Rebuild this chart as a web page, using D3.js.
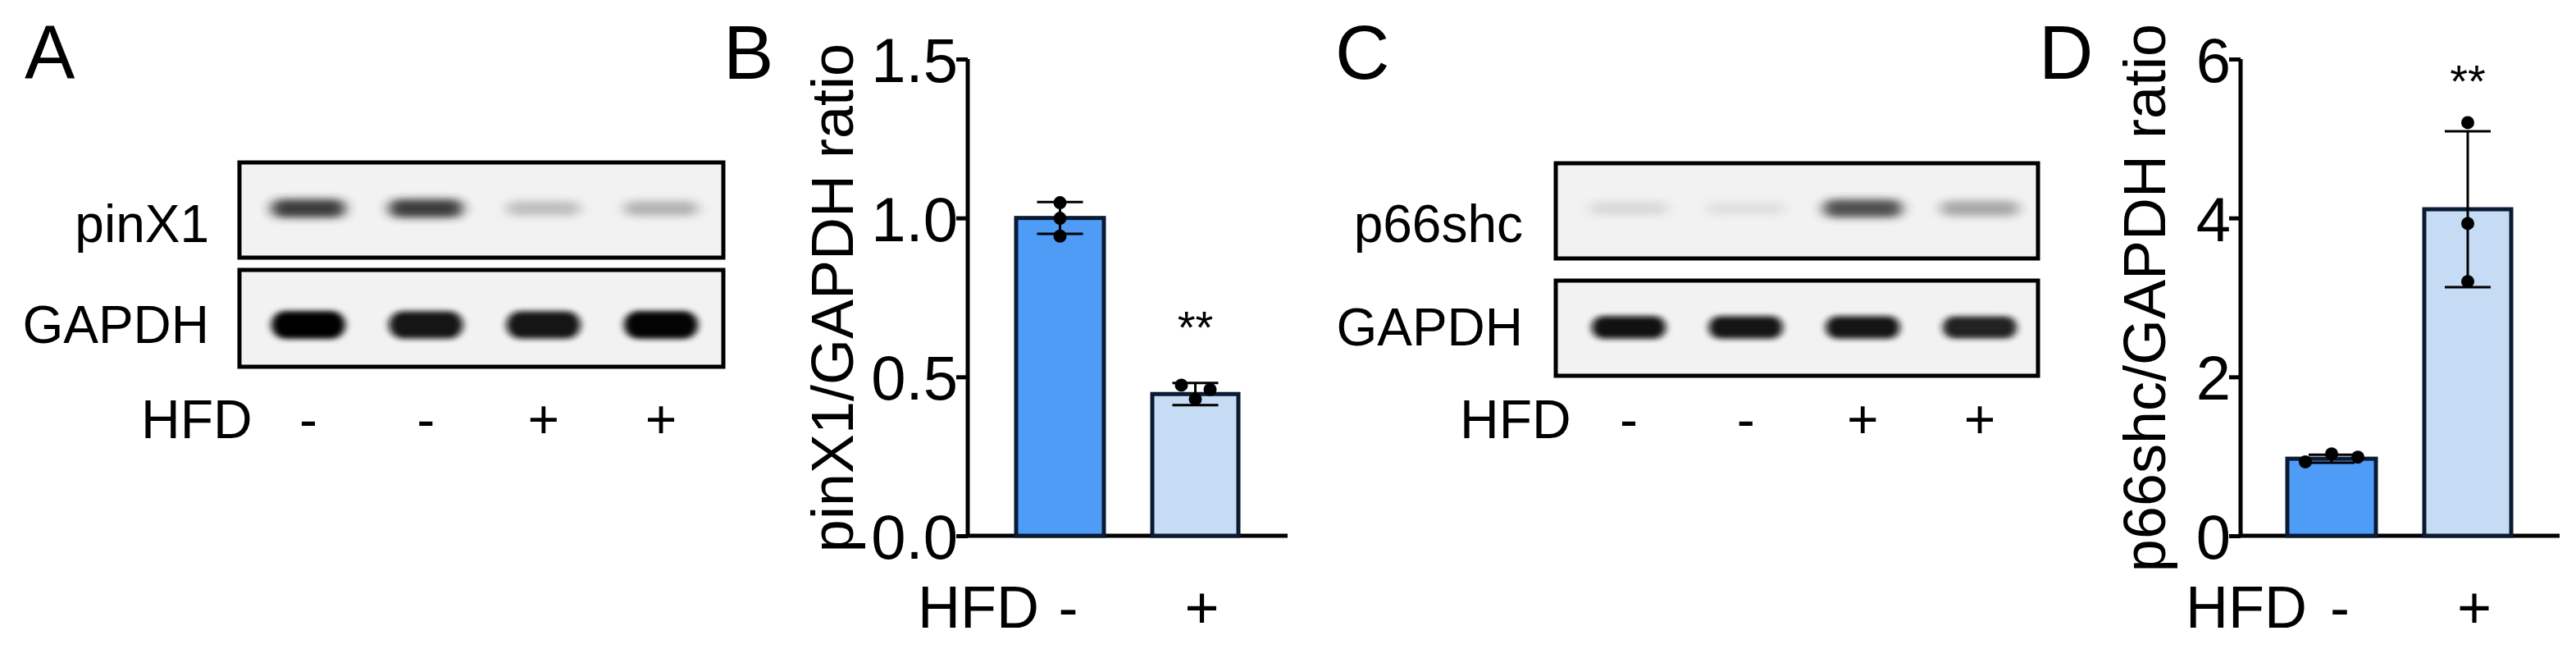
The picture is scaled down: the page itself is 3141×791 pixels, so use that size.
<!DOCTYPE html>
<html><head><meta charset="utf-8">
<script src="https://cdnjs.cloudflare.com/ajax/libs/d3/7.8.5/d3.min.js"></script>
<style>body{margin:0;background:#fff}svg{display:block}text{font-family:"Liberation Sans",Arial,sans-serif;fill:#000}</style>
</head><body><svg id="c" width="3141" height="791"></svg>
<script>
const groups = ["-", "+"];
const laneSigns = ["-", "-", "+", "+"];
const pinx1Means = [1.0, 0.446];
const pinx1SD = [0.05, 0.035];
const pinx1Points = [[1.048, 0.999, 0.943], [0.474, 0.46, 0.43]];
const pinx1Ticks = [0.0, 0.5, 1.0, 1.5];
const p66Means = [0.97, 4.11];
const p66SD = [0.05, 0.98];
const p66Points = [[0.93, 1.03, 0.99], [5.2, 3.93, 3.2]];
const p66Ticks = [0, 2, 4, 6];
// blot band intensities (0..1) per lane
const bandA1 = [0.85, 0.85, 0.4, 0.45];
const bandA2 = [1.0, 0.95, 0.95, 0.98];
const bandC1 = [0.25, 0.2, 0.8, 0.5];
const bandC2 = [0.97, 0.95, 0.95, 0.92];

const svg = d3.select("#c");
const defs = svg.append("defs");
defs.append("filter").attr("id","blur").attr("x","-50%").attr("y","-100%").attr("width","200%").attr("height","300%")
  .append("feGaussianBlur").attr("stdDeviation","8 5");
defs.append("filter").attr("id","blur2").attr("x","-50%").attr("y","-100%").attr("width","200%").attr("height","300%")
  .append("feGaussianBlur").attr("stdDeviation","5 3");

function label(t,x,y){svg.append("text").attr("x",x).attr("y",y).attr("font-size",92).text(t);}
label("A",30,96);label("B",882,96);label("C",1628,96);label("D",2486,96);

function blot(x0,x1,boxes,labels,lanes,labelRight,signY,hfdX){
  const xs = d3.scalePoint().domain(d3.range(4)).range(lanes);
  boxes.forEach((b,i)=>{
    const g=svg.append("g");
    g.append("rect").attr("x",x0).attr("y",b.y0).attr("width",x1-x0).attr("height",b.y1-b.y0).attr("fill","#f2f2f2");
    b.bands.forEach((v,j)=>{
      g.append("rect").attr("x",xs(j)-b.rx).attr("y",b.by-b.ry-v*5).attr("width",2*b.rx).attr("height",2*(b.ry+v*5)).attr("rx",b.ry+v*5)
        .attr("fill",d3.interpolateGreys(0.15+0.85*v)).attr("opacity",0.3+0.7*v).attr("filter",i==0?"url(#blur)":"url(#blur2)");
    });
    g.append("rect").attr("x",x0).attr("y",b.y0).attr("width",x1-x0).attr("height",b.y1-b.y0).attr("fill","none").attr("stroke","#000").attr("stroke-width",5);
    svg.append("text").attr("x",labelRight).attr("y",b.ly).attr("text-anchor","end").attr("font-size",64).text(labels[i]);
  });
  svg.append("text").attr("x",hfdX).attr("y",signY).attr("font-size",66).text("HFD");
  laneSigns.forEach((s,j)=>svg.append("text").attr("x",xs(j)).attr("y",signY).attr("text-anchor","middle").attr("font-size",66).text(s));
}
blot(292,882,[{y0:198,y1:314,by:254,rx:45,ry:7,ly:295,bands:bandA1},{y0:329,y1:447,by:396,rx:45,ry:12,ly:418,bands:bandA2}],
  ["pinX1","GAPDH"],[376,806],255,534,172);
blot(1897,2485,[{y0:199,y1:315,by:254,rx:48,ry:7,ly:295,bands:bandC1},{y0:342,y1:458,by:399,rx:45,ry:9,ly:421,bands:bandC2}],
  ["p66shc","GAPDH"],[1986,2414],1857,534,1780);

const colors=["#4f9cf7","#c6dcf5"];
function chart(ax,xEnd,bars,means,sds,pts,ticks,dom,ylab,labX,hfdX,starY){
  const y=d3.scaleLinear().domain(dom).range([653,72]);
  const g=svg.append("g");
  const yAxis=d3.axisLeft(y).tickValues(ticks).tickSize(14).tickFormat(dom[1]<2?d3.format(".1f"):d3.format("d"));
  const ag=g.append("g").attr("transform",`translate(${ax},0)`).call(yAxis);
  ag.select(".domain").attr("stroke-width",5).attr("d",`M0,${y(dom[1])}V${y(0)}`);
  ag.selectAll(".tick line").attr("stroke-width",5);
  ag.selectAll(".tick text").attr("font-size",76).attr("font-family","Liberation Sans, Arial").attr("x",-12).attr("dy","0.36em");
  g.append("line").attr("x1",ax-2).attr("x2",xEnd).attr("y1",y(0)).attr("y2",y(0)).attr("stroke","#000").attr("stroke-width",5);
  bars.forEach((b,i)=>{
    g.append("rect").attr("x",b[0]).attr("width",b[1]-b[0]).attr("y",y(means[i])).attr("height",y(0)-y(means[i]))
      .attr("fill",colors[i]).attr("stroke","#0b1a33").attr("stroke-width",5);
    const cx=(b[0]+b[1])/2;
    g.append("line").attr("x1",cx).attr("x2",cx).attr("y1",y(means[i]+sds[i])).attr("y2",y(means[i]-sds[i])).attr("stroke","#000").attr("stroke-width",3);
    [means[i]+sds[i],means[i]-sds[i]].forEach(v=>g.append("line").attr("x1",cx-28).attr("x2",cx+28).attr("y1",y(v)).attr("y2",y(v)).attr("stroke","#000").attr("stroke-width",3));
    const off = i==1&&dom[1]<2?[-17,18,0]:(i==0&&dom[1]>2?[-32,0,32]:[0,0,0]);
    pts[i].forEach((v,k)=>g.append("circle").attr("cx",cx+off[k]).attr("cy",y(v)).attr("r",8).attr("fill","#000"));
  });
  const c2=(bars[1][0]+bars[1][1])/2;
  g.append("text").attr("x",c2).attr("y",starY).attr("text-anchor","middle").attr("font-size",56).text("**");
  g.append("text").attr("transform",`translate(${labX},363) rotate(-90)`).attr("text-anchor","middle").attr("font-size",72).text(ylab);
  g.append("text").attr("x",hfdX).attr("y",765).attr("font-size",72).text("HFD");
  groups.forEach((s,i)=>g.append("text").attr("x",(bars[i][0]+bars[i][1])/2+(i==0?10:8)).attr("y",765).attr("text-anchor","middle").attr("font-size",72).text(s));
}
chart(1180,1570,[[1239,1346],[1405,1510]],pinx1Means,pinx1SD,pinx1Points,pinx1Ticks,[0,1.5],"pinX1/GAPDH ratio",1040,1119,418);
chart(2732,3121,[[2789,2897],[2956,3062]],p66Means,p66SD,p66Points,p66Ticks,[0,6],"p66shc/GAPDH ratio",2640,2665,118);
</script></body></html>
